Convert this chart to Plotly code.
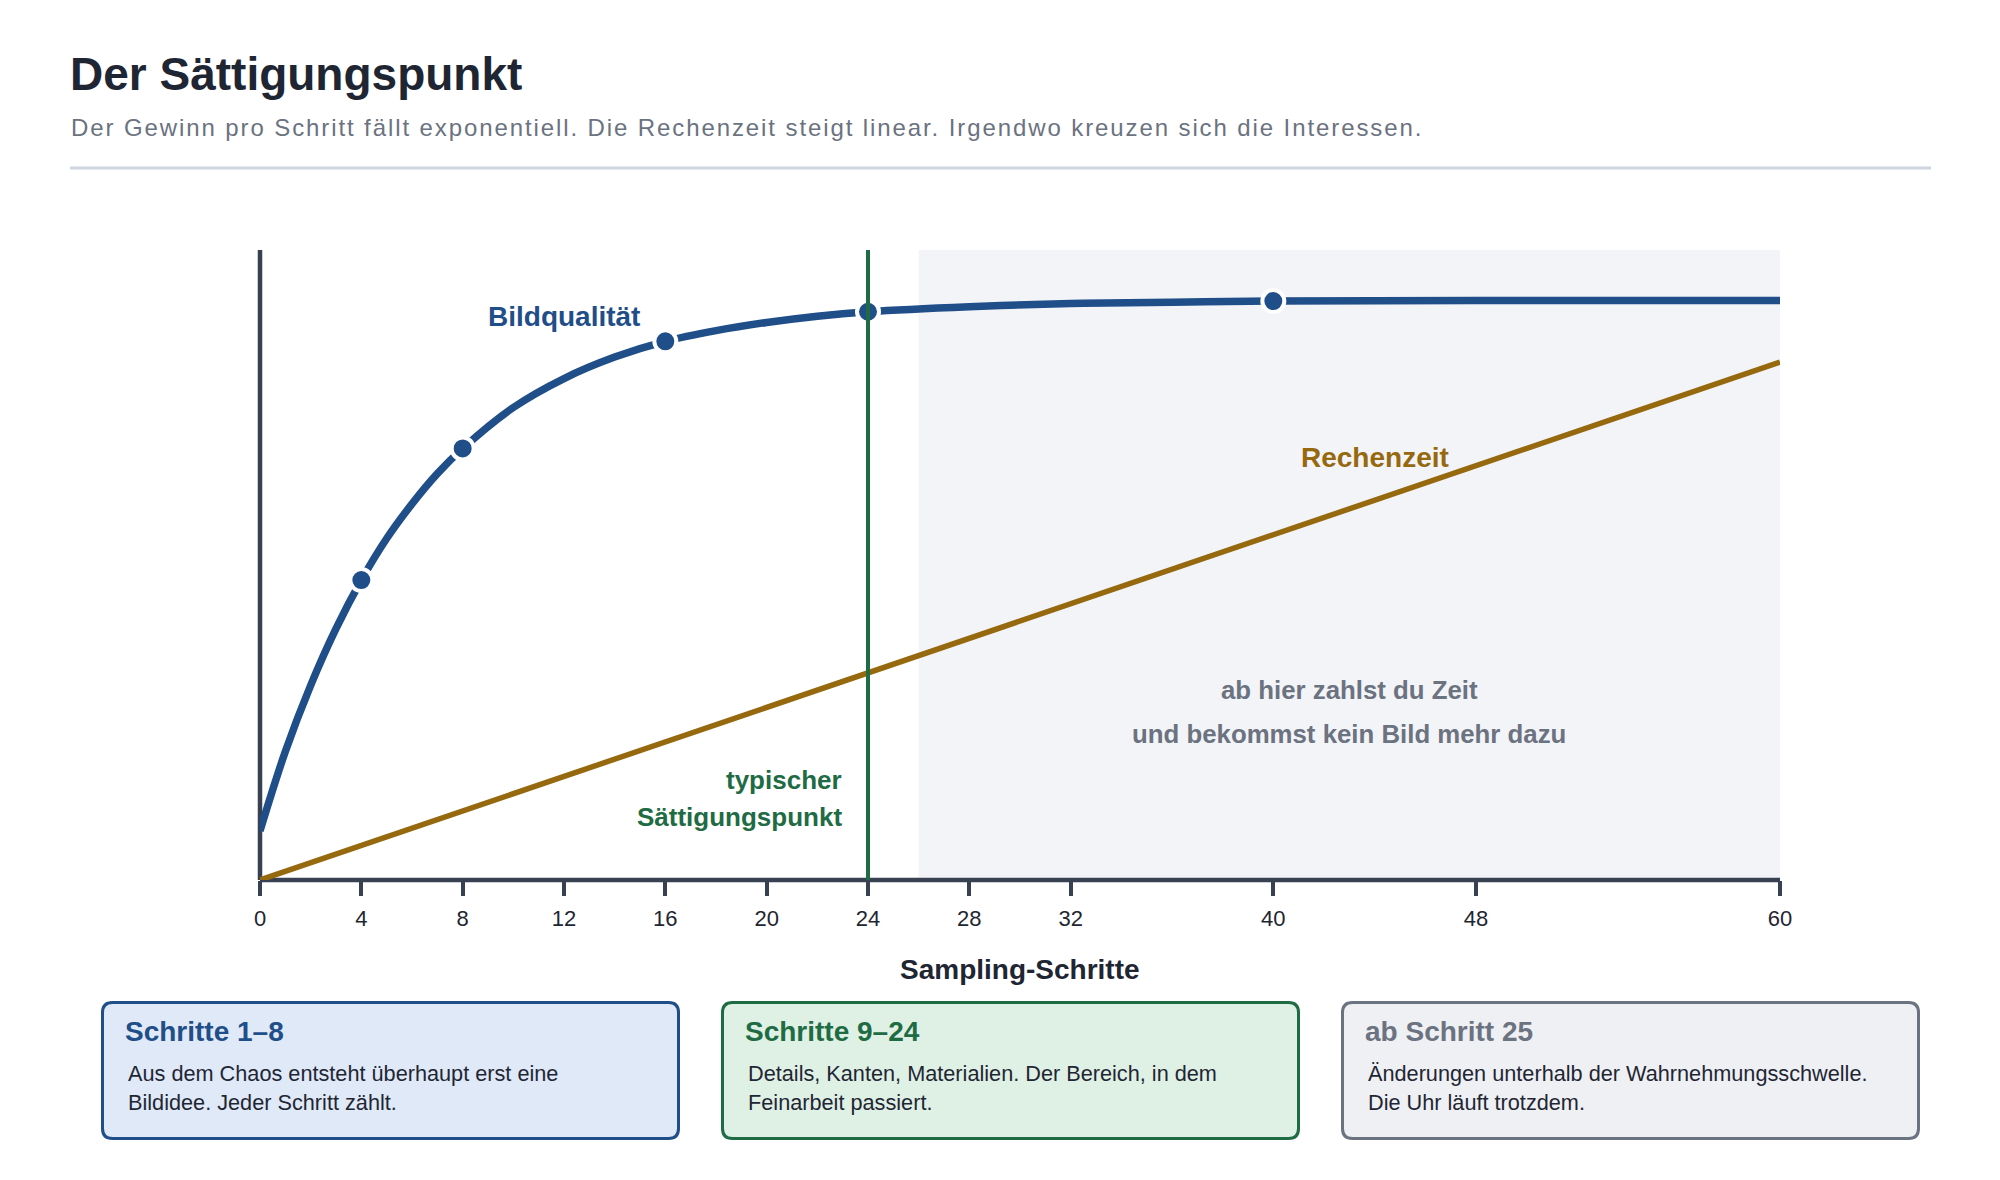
import plotly.graph_objects as go

# ---------------- data ----------------
steps = [0, 1, 2, 3, 4, 5, 6, 7, 8, 10, 12, 14, 16, 18, 20, 22, 24, 28, 32, 36, 40, 48, 60]
quality = [7.8, 20.4, 30.9, 39.9, 47.6, 54.2, 59.7, 64.5, 68.5, 75.0, 79.6, 83.0, 85.5,
           87.2, 88.5, 89.5, 90.2, 91.0, 91.5, 91.7, 91.9, 92.0, 92.0]
time_steps = [0, 12, 24, 36, 48, 60]
compute_time = [0, 16.4, 32.9, 49.3, 65.8, 82.2]
marker_steps = [4, 8, 16, 24, 40]
marker_quality = [47.6, 68.5, 85.5, 90.2, 91.9]
saturation_step = 24
shade_start, shade_end = 26, 60
tick_values = [0, 4, 8, 12, 16, 20, 24, 28, 32, 40, 48, 60]
tick_labels = [str(v) for v in tick_values]

title = "Der Sättigungspunkt"
subtitle = ("Der Gewinn pro Schritt fällt exponentiell. Die Rechenzeit steigt linear. "
            "Irgendwo kreuzen sich die Interessen.")
cards = [
    ("Schritte 1–8", ["Aus dem Chaos entsteht überhaupt erst eine", "Bildidee. Jeder Schritt zählt."]),
    ("Schritte 9–24", ["Details, Kanten, Materialien. Der Bereich, in dem", "Feinarbeit passiert."]),
    ("ab Schritt 25", ["Änderungen unterhalb der Wahrnehmungsschwelle.", "Die Uhr läuft trotzdem."]),
]

# ---------------- style ----------------
FONT = "Liberation Sans, Arial, sans-serif"
BLUE = "#1f4e89"
BROWN = "#96690f"
GREEN = "#1e6b44"
GRAY = "#6b7280"
DARK = "#1f2633"
AXIS = "#374151"
SHADE = "#f3f4f8"
card_styles = [
    (BLUE, "#dfe9f7"),
    (GREEN, "#dff0e5"),
    (GRAY, "#eef0f3"),
]

W, H = 2000, 1180
PL, PR, PT, PB = 260, 1780, 250, 880  # plot area in pixels
X_RANGE = [0, 60]
Y_RANGE = [0, 100]


def X(px):
    return (px - PL) / (PR - PL)


def Y(py):
    return (PB - py) / (PB - PT)


def xd(v):  # data x -> paper x
    return (v - X_RANGE[0]) / (X_RANGE[1] - X_RANGE[0])


fig = go.Figure()

fig.add_trace(go.Scatter(x=time_steps, y=compute_time, mode="lines",
                         line=dict(color=BROWN, width=5.5), hoverinfo="skip", showlegend=False))
fig.add_trace(go.Scatter(x=steps, y=quality, mode="lines",
                         line=dict(color=BLUE, width=7.5, shape="spline"),
                         hoverinfo="skip", showlegend=False))
fig.add_trace(go.Scatter(x=marker_steps, y=marker_quality, mode="markers",
                         marker=dict(color=BLUE, size=22, line=dict(color="white", width=4)),
                         hoverinfo="skip", showlegend=False))
fig.add_trace(go.Scatter(x=[saturation_step, saturation_step], y=Y_RANGE, mode="lines",
                         line=dict(color=GREEN, width=4), hoverinfo="skip", showlegend=False))

shapes = [
    dict(type="rect", xref="paper", yref="paper", x0=xd(shade_start), x1=xd(shade_end),
         y0=0, y1=1, fillcolor=SHADE, line=dict(width=0), layer="below"),
    # axis lines, centred on the plot edges (paper refs so they are not clipped)
    dict(type="line", xref="paper", yref="paper", x0=0, x1=0, y0=0, y1=1,
         line=dict(color=AXIS, width=4.5), layer="below"),
    dict(type="line", xref="paper", yref="paper", x0=0, x1=1, y0=0, y1=0,
         line=dict(color=AXIS, width=4.5), layer="below"),
    dict(type="line", xref="paper", yref="paper", x0=X(70), x1=X(1931), y0=Y(168), y1=Y(168),
         line=dict(color="#cfd5dd", width=3)),
]

annotations = [
    dict(text=f"<b>{title}</b>", x=X(68), y=Y(73.5), xref="paper", yref="paper",
         xanchor="left", yanchor="middle", showarrow=False,
         font=dict(family=FONT, size=46, color=DARK)),
    dict(text=f'<span style="letter-spacing:1.9px">{subtitle}</span>', x=X(69), y=Y(127.5),
         xref="paper", yref="paper",
         xanchor="left", yanchor="middle", showarrow=False,
         font=dict(family=FONT, size=24, color=GRAY)),
    dict(text="<b>Sampling-Schritte</b>", x=30, y=Y(969), xref="x", yref="paper",
         xanchor="center", yanchor="middle", showarrow=False,
         font=dict(family=FONT, size=28, color=DARK)),
    dict(text="<b>Bildqualität</b>", x=12, y=89.4, xref="x", yref="y",
         xanchor="center", yanchor="middle", showarrow=False,
         font=dict(family=FONT, size=28, color=BLUE)),
    dict(text="<b>Rechenzeit</b>", x=44, y=67.0, xref="x", yref="y",
         xanchor="center", yanchor="middle", showarrow=False,
         font=dict(family=FONT, size=28, color=BROWN)),
    dict(text="<b>typischer</b>", x=23.05, y=Y(780), xref="x", yref="paper",
         xanchor="right", yanchor="middle", showarrow=False,
         font=dict(family=FONT, size=26, color=GREEN)),
    dict(text="<b>Sättigungspunkt</b>", x=23.05, y=Y(817), xref="x", yref="paper",
         xanchor="right", yanchor="middle", showarrow=False,
         font=dict(family=FONT, size=26, color=GREEN)),
    dict(text="<b>ab hier zahlst du Zeit</b>", x=43, y=Y(690), xref="x", yref="paper",
         xanchor="center", yanchor="middle", showarrow=False,
         font=dict(family=FONT, size=25.8, color=GRAY)),
    dict(text="<b>und bekommst kein Bild mehr dazu</b>", x=43, y=Y(734), xref="x", yref="paper",
         xanchor="center", yanchor="middle", showarrow=False,
         font=dict(family=FONT, size=25.8, color=GRAY)),
]


def rounded_rect(l, t, r, b, rad):
    return (f"M {X(l+rad)},{Y(t)} L {X(r-rad)},{Y(t)} Q {X(r)},{Y(t)} {X(r)},{Y(t+rad)} "
            f"L {X(r)},{Y(b-rad)} Q {X(r)},{Y(b)} {X(r-rad)},{Y(b)} "
            f"L {X(l+rad)},{Y(b)} Q {X(l)},{Y(b)} {X(l)},{Y(b-rad)} "
            f"L {X(l)},{Y(t+rad)} Q {X(l)},{Y(t)} {X(l+rad)},{Y(t)} Z")


card_left = [102.5, 722.5, 1342.5]
card_w = 576
card_top, card_bot = 1002.5, 1138.5
for (head, lines), (edge, fill), left in zip(cards, card_styles, card_left):
    shapes.append(dict(type="path", xref="paper", yref="paper",
                       path=rounded_rect(left, card_top, left + card_w, card_bot, 10),
                       fillcolor=fill, line=dict(color=edge, width=3), layer="above"))
    annotations.append(dict(text=f"<b>{head}</b>", x=X(left + 20.5), y=Y(1031),
                            xref="paper", yref="paper", xanchor="left", yanchor="middle",
                            showarrow=False, font=dict(family=FONT, size=28, color=edge)))
    for i, ln in enumerate(lines):
        annotations.append(dict(text=ln, x=X(left + 23), y=Y(1073 + 29.5 * i),
                                xref="paper", yref="paper", xanchor="left", yanchor="middle",
                                showarrow=False, font=dict(family=FONT, size=21.7, color=DARK)))

fig.update_layout(
    width=W, height=H, autosize=False,
    margin=dict(l=PL, r=W - PR, t=PT, b=H - PB, pad=0),
    paper_bgcolor="white", plot_bgcolor="rgba(0,0,0,0)",
    font=dict(family=FONT, color=DARK),
    showlegend=False,
    shapes=shapes,
    annotations=annotations,
    xaxis=dict(range=X_RANGE, tickvals=tick_values, ticktext=tick_labels,
               ticks="outside", ticklen=15, tickwidth=3.5, tickcolor=AXIS,
               ticklabelstandoff=4,
               showline=False, showgrid=False, zeroline=False,
               tickfont=dict(family=FONT, size=22, color=DARK), fixedrange=True),
    yaxis=dict(range=Y_RANGE, showticklabels=False, ticks="", showline=False,
               showgrid=False, zeroline=False, fixedrange=True),
)

fig.write_html("out.html", config={"displayModeBar": False})
